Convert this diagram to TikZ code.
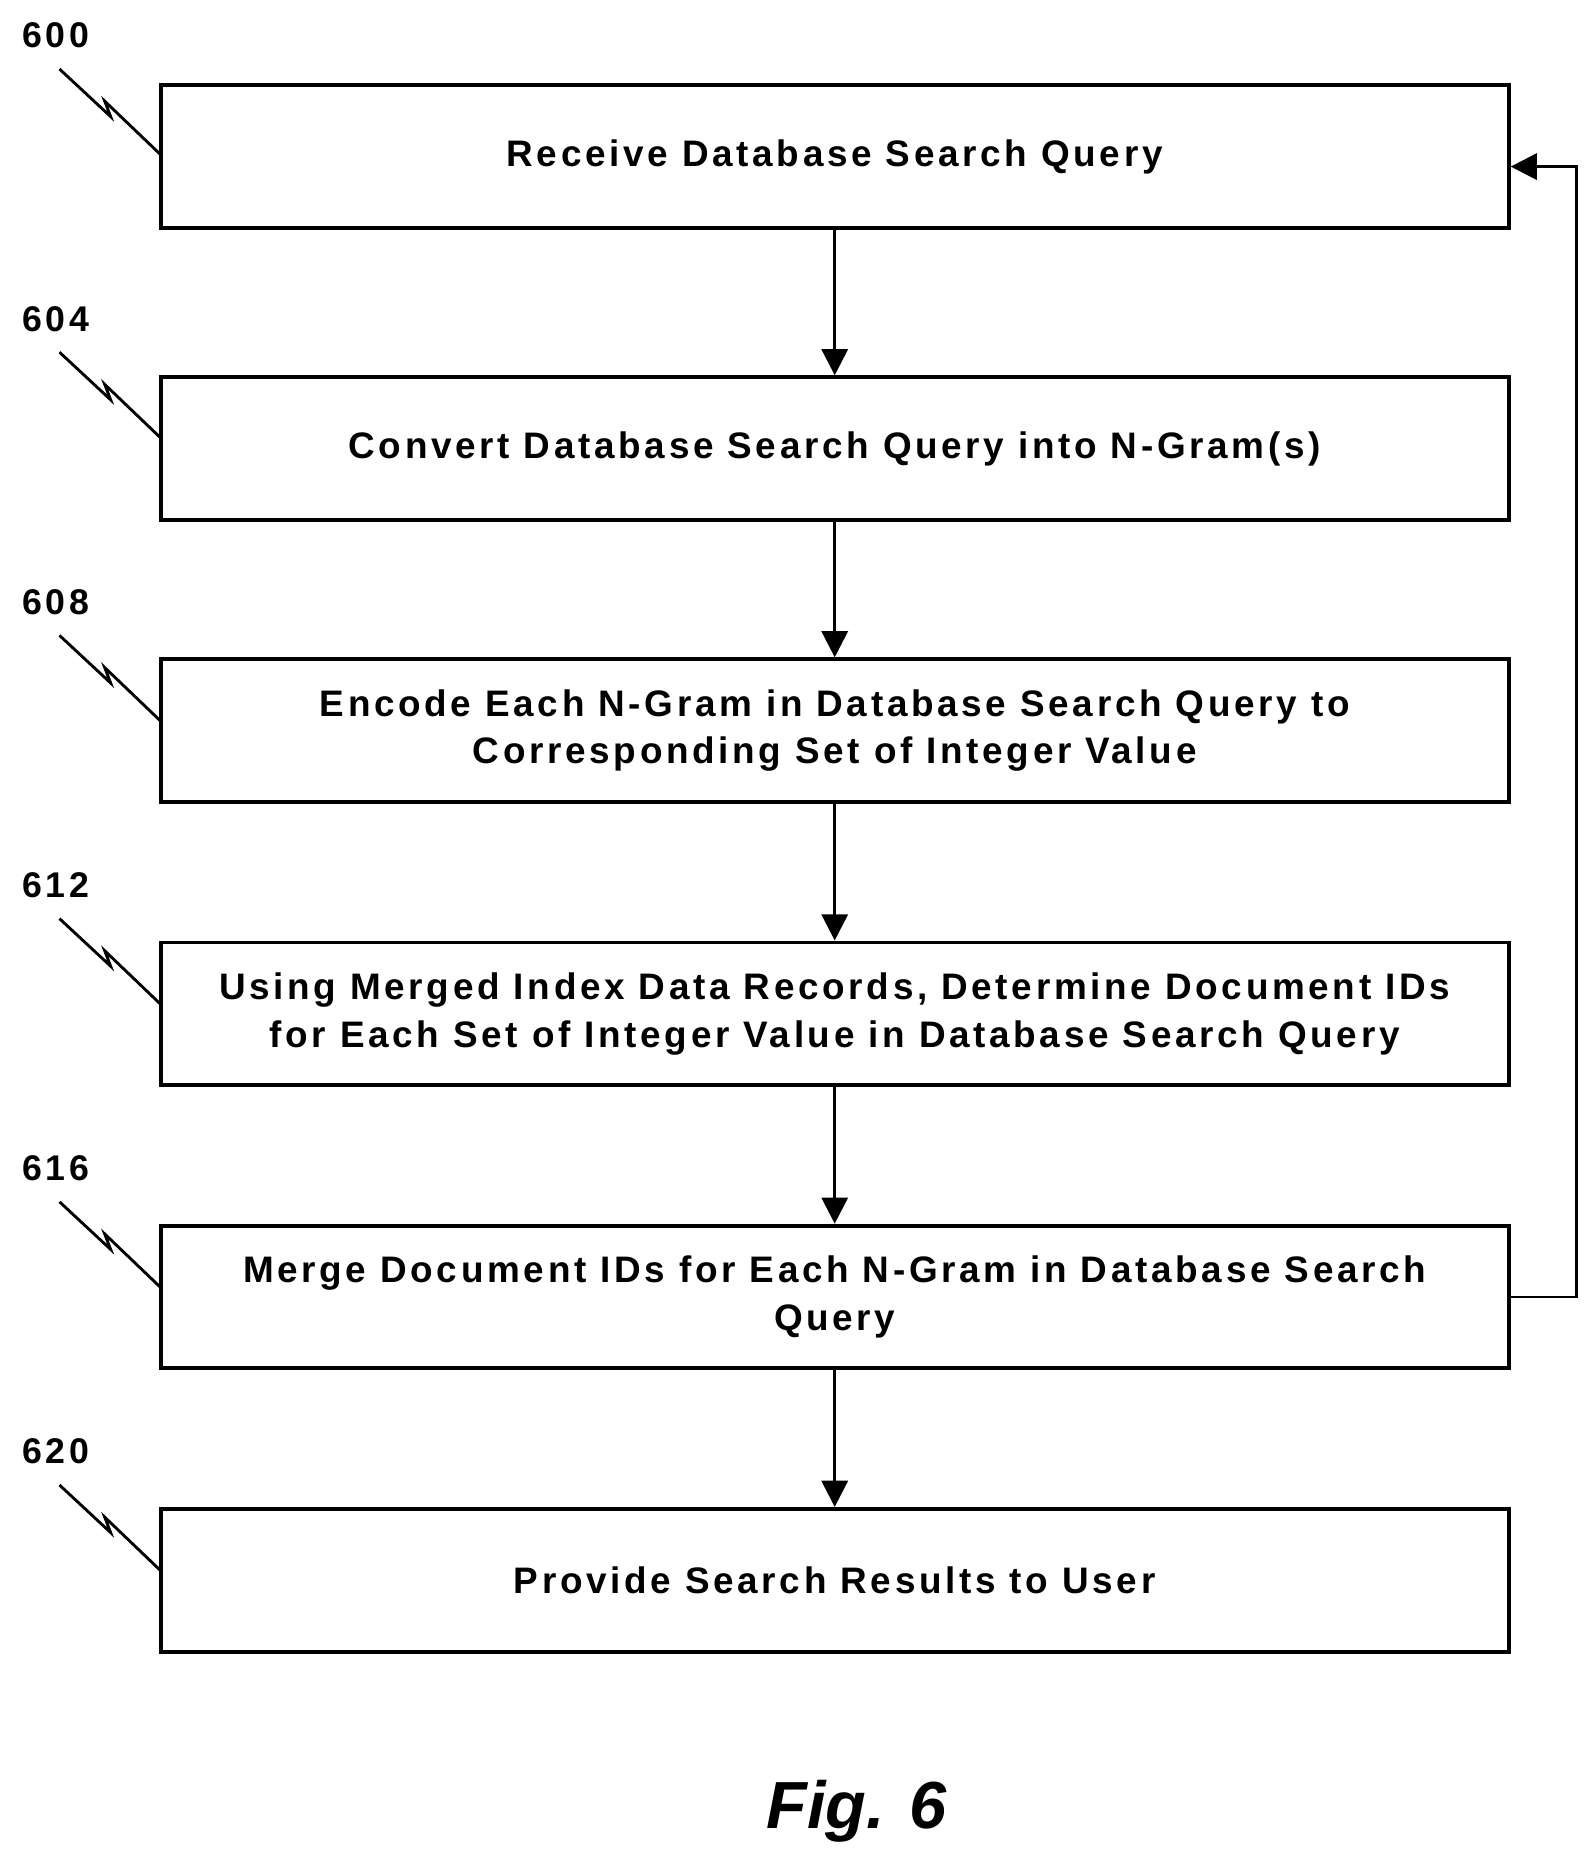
\documentclass[tikz,border=0pt]{standalone}
\usepackage{fontspec}
\setmainfont{Liberation Sans}[LetterSpace=10]
\newfontfamily\figfont{Liberation Sans}
\usetikzlibrary{arrows.meta}
\begin{document}
\begin{tikzpicture}[x=0.5pt,y=-0.5pt,
  box/.style={draw,line width=1.6pt,minimum width=566.5pt,minimum height=60pt,align=center,font=\bfseries\fontsize{15.5}{20}\selectfont,inner sep=0pt},
  lab/.style={font=\bfseries\fontsize{15}{16}\selectfont},
  arr/.style={line width=1.2pt,-{Triangle[length=11pt,width=11pt]}},
  lead/.style={line width=1.2pt}]
\useasboundingbox (0,0) rectangle (1340,1564);
\node[box] (b1) at (701.5,131.5) {Receive Database Search Query};
\node[box] (b2) at (701.5,377) {Convert Database Search Query into N-Gram(s)};
\node[box] (b3) at (701.5,614) {Encode Each N-Gram in Database Search Query to\\Corresponding Set of Integer Value};
\node[box] (b4) at (701.5,852) {Using Merged Index Data Records, Determine Document IDs\\for Each Set of Integer Value in Database Search Query};
\node[box] (b5) at (701.5,1090) {Merge Document IDs for Each N-Gram in Database Search\\Query};
\node[box] (b6) at (701.5,1328) {Provide Search Results to User};
\foreach \n/\y/\t in {l1/30/600,l2/268/604,l3/506/608,l4/744/612,l5/982/616,l6/1220/620}{
  \node[lab] (\n) at (47,\y) {\t};
  \draw[lead] (50,\y+28) -- (93,\y+68) -- (88,\y+55) -- (135,\y+100);
}
\draw[arr] (b1) -- (b2);
\draw[arr] (b2) -- (b3);
\draw[arr] (b3) -- (b4);
\draw[arr] (b4) -- (b5);
\draw[arr] (b5) -- (b6);
\coordinate (c1) at (1325,1090);
\coordinate (c2) at (1325,140);
\draw[arr] (b5.east |- c1) -- (c1) -- (c2) -- (b1.east |- c2);
\node[font=\figfont\bfseries\itshape\fontsize{28}{30}\selectfont] (fig) at (720,1522) {Fig. 6};
\end{tikzpicture}
\end{document}
